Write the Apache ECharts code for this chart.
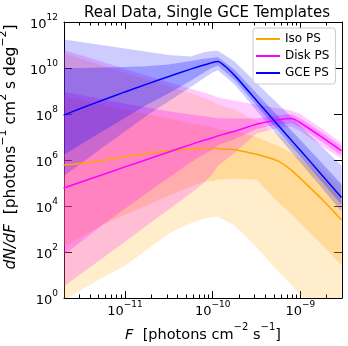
<!DOCTYPE html>
<html><head><meta charset="utf-8">
<script src="https://cdn.jsdelivr.net/npm/echarts@6/dist/echarts.min.js"></script>
<style>html,body{margin:0;padding:0;background:#fff}#c{width:348px;height:346px}</style>
</head><body><div id="c"></div>
<script>
// x: log10(F), y: log10(dN/dF)
const logF = [-11.70, -11.5, -11.25, -11.0, -10.75, -10.5, -10.25, -10.1, -10.0, -9.94, -9.75, -9.5, -9.25, -9.1, -9.0, -8.75, -8.53];

const isoLine    = [5.78, 5.86, 5.98, 6.15, 6.29, 6.40, 6.48, 6.51, 6.51, 6.50, 6.45, 6.25, 5.95, 5.55, 5.20, 4.28, 3.39];
const isoInnerLo = [2.23, 2.66, 3.20, 3.62, 4.03, 4.45, 4.85, 5.05, 5.10, 5.15, 5.20, 5.15, 4.15, 3.65, 3.25, 2.30, 1.43];
const isoInnerHi = [8.75, 8.60, 8.40, 8.20, 8.00, 7.80, 7.60, 7.50, 7.42, 7.35, 7.25, 7.00, 6.60, 6.30, 6.05, 5.20, 4.30];
const isoOuterLo = [-0.10, 0.35, 0.90, 1.40, 2.10, 2.80, 3.25, 3.45, 3.52, 3.52, 3.15, 2.20, 1.15, 0.55, 0.13, -0.90, -1.80];
const isoOuterHi = [10.64, 10.40, 10.10, 9.80, 9.50, 9.20, 8.90, 8.70, 8.55, 8.40, 8.20, 7.70, 7.10, 6.70, 6.40, 5.60, 4.80];

const diskLine    = [4.78, 5.04, 5.37, 5.70, 6.02, 6.35, 6.67, 6.86, 6.97, 7.05, 7.25, 7.55, 7.75, 7.80, 7.62, 6.98, 6.40];
const diskInnerLo = [1.87, 2.46, 3.20, 3.88, 4.56, 5.24, 5.90, 6.25, 6.45, 6.65, 6.90, 7.35, 7.55, 7.60, 7.42, 6.78, 6.20];
const diskInnerHi = [8.97, 8.82, 8.63, 8.45, 8.28, 8.12, 7.98, 7.90, 7.85, 7.82, 7.80, 7.80, 7.95, 8.00, 7.82, 7.18, 6.60];
const diskOuterLo = [0.50, 1.05, 1.75, 2.45, 3.15, 3.85, 4.55, 5.00, 5.40, 5.75, 6.30, 7.15, 7.40, 7.45, 7.25, 6.60, 6.05];
const diskOuterHi = [10.78, 10.55, 10.26, 9.96, 9.67, 9.38, 9.10, 8.93, 8.82, 8.72, 8.58, 8.40, 8.25, 8.15, 8.00, 7.35, 6.74];

const gceLine    = [7.95, 8.25, 8.61, 8.96, 9.30, 9.63, 9.95, 10.13, 10.24, 10.28, 9.68, 8.59, 7.50, 6.85, 6.42, 5.33, 4.37];
const gceInnerLo = [6.22, 6.68, 7.26, 7.83, 8.40, 8.90, 9.45, 9.80, 10.02, 10.10, 9.48, 8.37, 7.26, 6.60, 6.15, 5.03, 4.05];
const gceInnerHi = [9.99, 10.00, 10.02, 10.04, 10.08, 10.15, 10.30, 10.40, 10.45, 10.48, 9.92, 8.90, 7.88, 7.27, 6.87, 5.85, 4.95];
const gceOuterLo = [5.30, 5.85, 6.55, 7.24, 7.93, 8.55, 9.17, 9.55, 9.80, 9.90, 9.28, 8.15, 7.02, 6.34, 5.89, 4.76, 3.76];
const gceOuterHi = [11.24, 11.13, 10.99, 10.85, 10.71, 10.57, 10.50, 10.68, 10.74, 10.75, 10.28, 9.35, 8.42, 7.86, 7.49, 6.56, 5.75];

const seriesNames = ['Iso PS', 'Disk PS', 'GCE PS'];
const xMajor = [-11, -10, -9];
const yMajor = [0, 2, 4, 6, 8, 10, 12];

const X_MIN = -11.695, X_MAX = -8.525;
const FONT = 'DejaVu Sans';

const xMinor = [];
for (let n = -12; n <= -9; n++) for (let k = 2; k <= 9; k++) {
  const v = n + Math.log10(k);
  if (v > X_MIN + 0.005 && v < X_MAX - 0.005) xMinor.push(v);
}

function band(lo, hi, color) {
  return {
    type: 'custom', clip: true, silent: true, z: 1,
    data: logF.map((x, i) => [x, lo[i], hi[i]]),
    encode: { x: 0, y: [1, 2] },
    renderItem: function (params, api) {
      if (params.dataIndex !== 0) return null;
      const pts = [];
      for (let i = 0; i < logF.length; i++) pts.push(api.coord([logF[i], hi[i]]));
      for (let i = logF.length - 1; i >= 0; i--) pts.push(api.coord([logF[i], lo[i]]));
      return { type: 'polygon', shape: { points: pts }, style: { fill: color, stroke: null } };
    }
  };
}
function line(name, ys, color) {
  return {
    type: 'line', name: name, z: 3, showSymbol: false, symbol: 'none',
    smooth: 0.15,
    data: logF.map((x, i) => [x, ys[i]]),
    lineStyle: { color: color, width: 1.5 }, itemStyle: { color: color }
  };
}
const sup = (v) => '{b|10}{s|' + (v < 0 ? '\u2212' + (-v) : v) + '}';
const rich = {
  b: { fontSize: 13, fontFamily: FONT, color: '#000', padding: [5, 0, 0, 0] },
  s: { fontSize: 9, fontFamily: FONT, color: '#000', verticalAlign: 'top' }
};
function nameRich(fs) {
  return {
    i: { fontSize: fs, fontFamily: FONT, fontStyle: 'italic', color: '#000', padding: [5, 0, 0, 0] },
    n: { fontSize: fs, fontFamily: FONT, color: '#000', padding: [5, 0, 0, 0] },
    s: { fontSize: Math.round(fs * 0.7), fontFamily: FONT, color: '#000', verticalAlign: 'top' }
  };
}

const baseX = { type: 'value', min: X_MIN, max: X_MAX, splitLine: { show: false }, gridIndex: 0 };
const baseY = { type: 'value', min: 0, max: 12, splitLine: { show: false }, gridIndex: 0 };
const axLine = { show: true, lineStyle: { color: '#000', width: 1 } };

const option = {
  animation: false,
  backgroundColor: '#fff',
  grid: { left: 64, right: 6, top: 22, bottom: 48, containLabel: false, outerBoundsMode: 'none' },
  title: {
    text: 'Real Data, Single GCE Templates', left: 79, top: 1,
    textStyle: { fontFamily: FONT, fontSize: 15, fontWeight: 'normal', color: '#000' }
  },
  legend: {
    data: seriesNames, orient: 'vertical', left: 253, top: 28,
    icon: 'rect', itemWidth: 24, itemHeight: 2, itemGap: 5, padding: [5, 6, 5, 3],
    textStyle: { fontFamily: FONT, fontSize: 12, color: '#000', lineHeight: 12 },
    borderColor: '#cccccc', borderWidth: 1, borderRadius: 3,
    backgroundColor: 'rgba(255,255,255,0.8)'
  },
  xAxis: [
    Object.assign({}, baseX, {
      position: 'bottom', axisLine: axLine,
      axisTick: { show: true, inside: true, length: 7, customValues: xMajor, lineStyle: { color: '#000' } },
      axisLabel: { show: true, customValues: xMajor, formatter: sup, rich: rich, margin: 2 },
      name: '{i|F}{n|  [photons cm}{s|\u22122}{n| s}{s|\u22121}{n|]}',
      nameLocation: 'middle', nameGap: 24, nameTextStyle: { rich: nameRich(14.5) }
    }),
    Object.assign({}, baseX, {
      position: 'bottom', axisLine: { show: false },
      axisTick: { show: true, inside: true, length: 3.5, customValues: xMinor, lineStyle: { color: '#000' } },
      axisLabel: { show: false }
    }),
    Object.assign({}, baseX, {
      position: 'top', axisLine: axLine,
      axisTick: { show: true, inside: true, length: 7, customValues: xMajor, lineStyle: { color: '#000' } },
      axisLabel: { show: false }
    }),
    Object.assign({}, baseX, {
      position: 'top', axisLine: { show: false },
      axisTick: { show: true, inside: true, length: 3.5, customValues: xMinor, lineStyle: { color: '#000' } },
      axisLabel: { show: false }
    })
  ],
  yAxis: [
    Object.assign({}, baseY, {
      position: 'left', axisLine: axLine,
      axisTick: { show: true, inside: true, length: 8, customValues: yMajor, lineStyle: { color: '#000' } },
      axisLabel: { show: true, customValues: yMajor, formatter: sup, rich: rich, margin: 6 },
      name: '{i|dN/dF}{n|  [photons}{s|\u22121}{n| cm}{s|2}{n| s deg}{s|\u22122}{n|]}',
      nameLocation: 'middle', nameRotate: 90, nameGap: 41,
      nameTextStyle: { rich: nameRich(15.5), padding: [0, 0, 0, 26] }
    }),
    Object.assign({}, baseY, {
      position: 'right', axisLine: axLine,
      axisTick: { show: true, inside: true, length: 8, customValues: yMajor, lineStyle: { color: '#000' } },
      axisLabel: { show: false }
    })
  ],
  series: [
    band(isoOuterLo, isoOuterHi, 'rgba(255,165,0,0.2)'),
    band(isoInnerLo, isoInnerHi, 'rgba(255,165,0,0.25)'),
    band(diskOuterLo, diskOuterHi, 'rgba(255,0,255,0.2)'),
    band(diskInnerLo, diskInnerHi, 'rgba(255,0,255,0.25)'),
    band(gceOuterLo, gceOuterHi, 'rgba(0,0,255,0.2)'),
    band(gceInnerLo, gceInnerHi, 'rgba(0,0,255,0.25)'),
    line('Iso PS', isoLine, '#ffa500'),
    line('Disk PS', diskLine, '#ff00ff'),
    line('GCE PS', gceLine, '#0000ff')
  ]
};
const chart = echarts.init(document.getElementById('c'), null, { renderer: 'canvas' });
chart.setOption(option);
</script></body></html>
